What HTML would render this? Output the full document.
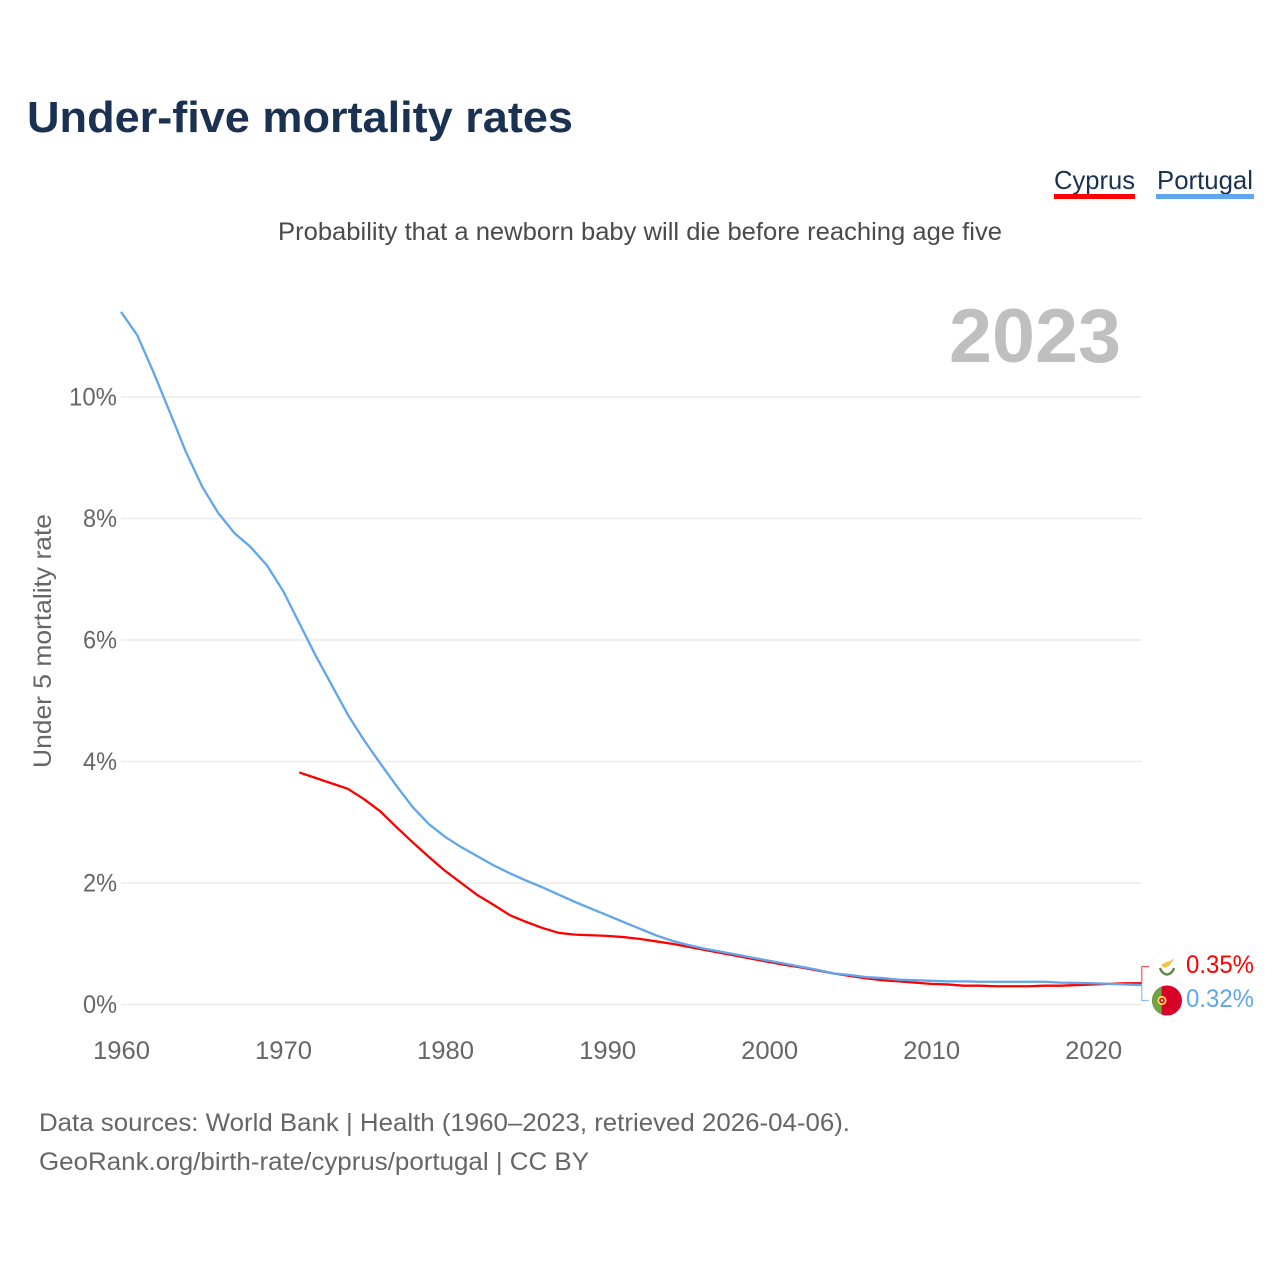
<!DOCTYPE html>
<html lang="en">
<head>
<meta charset="utf-8">
<title>Under-five mortality rates</title>
<style>
html,body{margin:0;padding:0;background:#fff;width:1280px;height:1280px;overflow:hidden}
svg{display:block;font-family:"Liberation Sans",sans-serif}
</style>
</head>
<body>
<svg id="chart" xmlns="http://www.w3.org/2000/svg" width="1280" height="1280" viewBox="0 0 1280 1280">
  <rect x="0" y="0" width="1280" height="1280" fill="#fff"/>
  <text x="27" y="132" font-size="44" font-weight="700" fill="#1a3152" textLength="546" lengthAdjust="spacingAndGlyphs">Under-five mortality rates</text>
  <text x="278" y="240" font-size="25" fill="#4a4a4a" textLength="724" lengthAdjust="spacingAndGlyphs">Probability that a newborn baby will die before reaching age five</text>

  <g>
    <text x="1054" y="189" font-size="26" fill="#1a3152" textLength="81" lengthAdjust="spacingAndGlyphs">Cyprus</text>
    <rect x="1054" y="194" width="81" height="5" fill="#ff0000"/>
  </g>
  <g>
    <text x="1157" y="189" font-size="26" fill="#1a3152" textLength="96" lengthAdjust="spacingAndGlyphs">Portugal</text>
    <rect x="1156" y="194" width="98" height="5" fill="#5fa6ec"/>
  </g>

  <g id="grid"></g>
  <g id="y-axis"></g>
  <g id="x-axis"></g>

  <text id="year-label" x="949" y="362" font-size="76" font-weight="700" fill="#bfbfbf" textLength="172" lengthAdjust="spacingAndGlyphs"></text>
  <text transform="translate(51,768) rotate(-90)" x="0" y="0" font-size="25" fill="#666" textLength="254" lengthAdjust="spacingAndGlyphs">Under 5 mortality rate</text>

  <g id="series"></g>

  <g id="end-markers"></g>

  <g>
    <circle cx="1167" cy="965" r="14.5" fill="#fff" stroke="#f6f6f6" stroke-width="0.6"/>
    <path d="M1161 965 L1166 962 L1170 961 L1174 958 L1172 962 L1169 966 L1164 968 Z" fill="#f5c344"/>
    <path d="M1160 968 Q1162 974 1167 974.5 Q1172 974 1174 968" fill="none" stroke="#5c8a45" stroke-width="2.4"/>
  </g>
  <g>
    <circle cx="1167" cy="1000.5" r="15" fill="#d80027"/>
    <path d="M1161.7 986.5 A15 15 0 0 0 1161.7 1014.5 Z" fill="#6da544"/>
    <circle cx="1162" cy="1000.5" r="4.6" fill="#ffda44"/>
    <circle cx="1162" cy="1000.5" r="2.8" fill="#d80027"/>
    <circle cx="1162" cy="1000.5" r="1.2" fill="#f0f0f0"/>
  </g>

  <text x="39" y="1131" font-size="25" fill="#666" textLength="811" lengthAdjust="spacingAndGlyphs">Data sources: World Bank | Health (1960–2023, retrieved 2026-04-06).</text>
  <text x="39" y="1170" font-size="25" fill="#666" textLength="550" lengthAdjust="spacingAndGlyphs">GeoRank.org/birth-rate/cyprus/portugal | CC BY</text>
</svg>
<script>
const years = [1960,1961,1962,1963,1964,1965,1966,1967,1968,1969,1970,1971,1972,1973,1974,1975,1976,1977,1978,1979,1980,1981,1982,1983,1984,1985,1986,1987,1988,1989,1990,1991,1992,1993,1994,1995,1996,1997,1998,1999,2000,2001,2002,2003,2004,2005,2006,2007,2008,2009,2010,2011,2012,2013,2014,2015,2016,2017,2018,2019,2020,2021,2022,2023];
const portugalValues = [11.40,11.02,10.41,9.76,9.10,8.53,8.09,7.76,7.53,7.23,6.81,6.28,5.75,5.26,4.77,4.35,3.97,3.60,3.25,2.97,2.76,2.59,2.44,2.29,2.16,2.04,1.93,1.81,1.69,1.58,1.47,1.36,1.25,1.14,1.05,0.98,0.92,0.87,0.82,0.77,0.72,0.67,0.62,0.57,0.51,0.485,0.45,0.435,0.41,0.40,0.39,0.38,0.38,0.375,0.375,0.375,0.375,0.375,0.36,0.355,0.35,0.34,0.33,0.32];
const cyprusValues = [null,null,null,null,null,null,null,null,null,null,null,3.82,3.73,3.64,3.55,3.38,3.18,2.92,2.67,2.43,2.20,2.00,1.80,1.64,1.47,1.36,1.26,1.18,1.15,1.14,1.13,1.11,1.08,1.04,1.00,0.95,0.90,0.85,0.80,0.75,0.70,0.65,0.61,0.56,0.51,0.47,0.43,0.40,0.38,0.36,0.34,0.33,0.31,0.31,0.30,0.30,0.30,0.31,0.31,0.32,0.33,0.34,0.35,0.35];
const yTicks = [0,2,4,6,8,10];
const xTicks = [1960,1970,1980,1990,2000,2010,2020];

const SVG_NS = 'http://www.w3.org/2000/svg';
function xScale(year){ return 121 + (year - 1960) * (1141.8 - 121) / (2023 - 1960); }
function yScale(value){ return 1004.5 - value * 60.75; }
function linePath(values){
  let d = '';
  values.forEach(function(v, i){
    if (v === null) return;
    d += (d ? ' L' : 'M') + xScale(years[i]).toFixed(2) + ' ' + yScale(v).toFixed(2);
  });
  return d;
}

const grid = document.getElementById('grid');
const yAxis = document.getElementById('y-axis');
yTicks.forEach(function(t){
  const ln = document.createElementNS(SVG_NS, 'line');
  
  
  ln.setAttribute('x1', 121);
  ln.setAttribute('x2', 1141.8);
  ln.setAttribute('y1', yScale(t));
  ln.setAttribute('y2', yScale(t));
  ln.setAttribute('stroke', '#ececec');
  ln.setAttribute('stroke-width', '1.5');
  grid.appendChild(ln);

  const label = document.createElementNS(SVG_NS, 'text');
  
  
  const w = t >= 10 ? 48 : 34;
  label.setAttribute('x', 117 - w);
  label.setAttribute('y', yScale(t) + 8.5);
  label.setAttribute('font-size', '25');
  label.setAttribute('fill', '#666');
  label.setAttribute('textLength', w);
  label.setAttribute('lengthAdjust', 'spacingAndGlyphs');
  label.textContent = t + '%';
  yAxis.appendChild(label);
});

const xAxis = document.getElementById('x-axis');
xTicks.forEach(function(t){
  const label = document.createElementNS(SVG_NS, 'text');
  
  
  label.setAttribute('x', xScale(t) - 28);
  label.setAttribute('y', 1059);
  label.setAttribute('font-size', '25');
  label.setAttribute('fill', '#666');
  label.setAttribute('textLength', 57);
  label.setAttribute('lengthAdjust', 'spacingAndGlyphs');
  label.textContent = String(t);
  xAxis.appendChild(label);
});

const seriesGroup = document.getElementById('series');
const cyprusLine = document.createElementNS(SVG_NS, 'path');


cyprusLine.setAttribute('d', linePath(cyprusValues));
cyprusLine.setAttribute('fill', 'none');
cyprusLine.setAttribute('stroke', '#ff0000');
cyprusLine.setAttribute('stroke-width', '2.3');
cyprusLine.setAttribute('stroke-linejoin', 'round');
seriesGroup.appendChild(cyprusLine);

const portugalLine = document.createElementNS(SVG_NS, 'path');


portugalLine.setAttribute('d', linePath(portugalValues));
portugalLine.setAttribute('fill', 'none');
portugalLine.setAttribute('stroke', '#5fa6ec');
portugalLine.setAttribute('stroke-width', '2.3');
portugalLine.setAttribute('stroke-linejoin', 'round');
seriesGroup.appendChild(portugalLine);

const lastIndex = years.length - 1;
document.getElementById('year-label').textContent = String(years[lastIndex]);

const markers = document.getElementById('end-markers');
const cyprusBracket = document.createElementNS(SVG_NS, 'path');


cyprusBracket.setAttribute('d', 'M' + xScale(years[lastIndex]) + ' ' + yScale(cyprusValues[lastIndex]) + ' V966.5 H1149');
cyprusBracket.setAttribute('fill', 'none');
cyprusBracket.setAttribute('stroke', '#ff5a5a');
cyprusBracket.setAttribute('stroke-width', '1.2');
markers.appendChild(cyprusBracket);

const portugalBracket = document.createElementNS(SVG_NS, 'path');


portugalBracket.setAttribute('d', 'M' + xScale(years[lastIndex]) + ' ' + yScale(portugalValues[lastIndex]) + ' V1000.5 H1149');
portugalBracket.setAttribute('fill', 'none');
portugalBracket.setAttribute('stroke', '#8dc0f2');
portugalBracket.setAttribute('stroke-width', '1.2');
markers.appendChild(portugalBracket);

const cyprusValueLabel = document.createElementNS(SVG_NS, 'text');


cyprusValueLabel.setAttribute('x', 1186);
cyprusValueLabel.setAttribute('y', 973);
cyprusValueLabel.setAttribute('font-size', '25');
cyprusValueLabel.setAttribute('fill', '#ff0000');
cyprusValueLabel.setAttribute('textLength', 68);
cyprusValueLabel.setAttribute('lengthAdjust', 'spacingAndGlyphs');
cyprusValueLabel.textContent = cyprusValues[lastIndex].toFixed(2) + '%';
markers.appendChild(cyprusValueLabel);

const portugalValueLabel = document.createElementNS(SVG_NS, 'text');


portugalValueLabel.setAttribute('x', 1186);
portugalValueLabel.setAttribute('y', 1007);
portugalValueLabel.setAttribute('font-size', '25');
portugalValueLabel.setAttribute('fill', '#5fa6ec');
portugalValueLabel.setAttribute('textLength', 68);
portugalValueLabel.setAttribute('lengthAdjust', 'spacingAndGlyphs');
portugalValueLabel.textContent = portugalValues[lastIndex].toFixed(2) + '%';
markers.appendChild(portugalValueLabel);
</script>
</body>
</html>
